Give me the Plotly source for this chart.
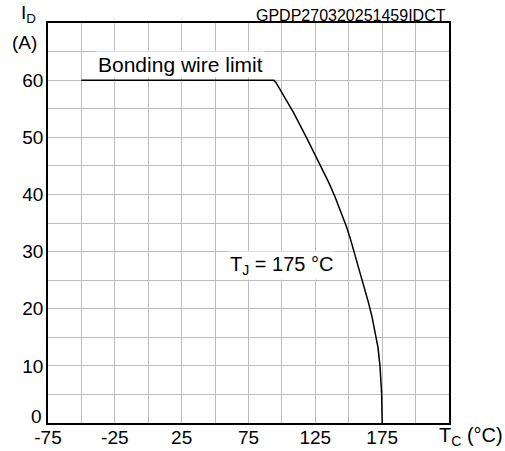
import plotly.graph_objects as go

# Data
tc = [-50, 94, 95.5, 108.5, 118.5, 130.5, 135, 139.7, 144, 148.4, 151, 153.4, 157.5, 161, 164.6, 167.4, 170, 171.9, 173.4, 174.6, 175]
id_a = [60, 60, 59.6, 54.4, 49.9, 44.4, 42.1, 39.6, 37.1, 34.3, 32.4, 30.5, 27.2, 24.3, 21.2, 18.6, 15.8, 13.2, 9.9, 5.2, 0]

x_grid = list(range(-75, 226, 25))
x_labels = ["-75", "", "-25", "", "25", "", "75", "", "125", "", "175", "", ""]
y_grid = list(range(0, 71, 5))
y_labels = ["", "", "10", "", "20", "", "30", "", "40", "", "50", "", "60", "", ""]

font = "Liberation Sans, Arial, sans-serif"

fig = go.Figure()
fig.add_trace(go.Scatter(x=tc, y=id_a, mode="lines",
                         line=dict(color="black", width=1.5),
                         showlegend=False, hoverinfo="skip"))

fig.update_layout(
    width=505, height=451,
    margin=dict(l=48, r=56, t=23, b=28, autoexpand=False),
    paper_bgcolor="white", plot_bgcolor="white",
    font=dict(family=font, size=19, color="black"),
    xaxis=dict(range=[-75, 225], tickvals=x_grid, ticktext=x_labels, automargin=False,
               showgrid=True, gridcolor="#bdbdbd", gridwidth=1.3,
               showline=True, linecolor="black", linewidth=1.6, mirror=True,
               ticks="", zeroline=False, tickfont=dict(size=19), ticklabelstandoff=-4),
    yaxis=dict(range=[0, 70], tickvals=y_grid, ticktext=y_labels, automargin=False,
               showgrid=True, gridcolor="#bdbdbd", gridwidth=1.3,
               showline=True, linecolor="black", linewidth=1.6, mirror=True,
               ticks="", zeroline=False, tickfont=dict(size=19), ticklabelstandoff=-1),
)

ann = [
    dict(x=24, y=62.7, text="Bonding wire limit", showarrow=False, bgcolor="white",
         font=dict(size=21), xanchor="center", yanchor="middle"),
    dict(x=100, y=27.6, text="T<sub>J</sub> = 175 °C", showarrow=False, bgcolor="white",
         font=dict(size=20), xanchor="center", yanchor="middle"),
    dict(x=225, y=70, text="GPDP270320251459IDCT", showarrow=False, xanchor="right", yanchor="bottom",
         xshift=-1, yshift=-3, font=dict(size=16)),
    dict(x=225, y=0, text="T<sub>C</sub> (°C)", showarrow=False, xanchor="center", yanchor="top",
         xshift=22, yshift=1, font=dict(size=20)),
    dict(x=-75, y=0, text="0", showarrow=False, xanchor="right", yanchor="middle",
         xshift=-4, yshift=7, font=dict(size=19)),
    dict(x=0.0, xref="paper", y=70, text="I<sub>D</sub>", showarrow=False, xanchor="right",
         yanchor="bottom", xshift=-10, yshift=-5, font=dict(size=19)),
    dict(x=0.0, xref="paper", y=70, text="(A)", showarrow=False, xanchor="right",
         yanchor="top", xshift=-9, yshift=-7, font=dict(size=19)),
]
fig.update_layout(annotations=ann)

fig.write_html("out.html")
